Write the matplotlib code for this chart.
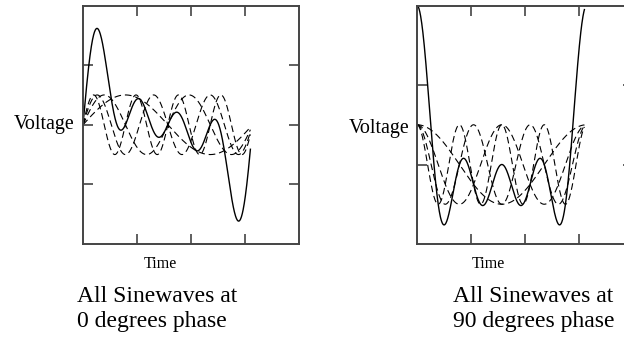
import numpy as np
import matplotlib
matplotlib.use("Agg")
import matplotlib.pyplot as plt

# harmonic content of the waveform (multiples of the fundamental)
harmonics = [1, 2, 3, 4]
amplitudes = [0.5, 0.5, 0.5, 0.5]
phases_deg = [0, 90]
t_end = 3.1
titles = ["All Sinewaves at\n0 degrees phase", "All Sinewaves at\n90 degrees phase"]
ylims = [(-2, 2), (-1, 2)]
yticks = [[-1, 0, 1], [0, 1]]
xticks = [1, 2, 3]

W, H = 624, 348
plt.rcParams['font.family'] = ['Liberation Serif', 'DejaVu Serif']


def px(x, y):
    return x / W, 1 - y / H


def style_axes(ax, ylim, yt):
    ax.set_xlim(0, 4)
    ax.set_ylim(*ylim)
    ax.set_xticks(xticks)
    ax.set_yticks(yt)
    ax.set_xticklabels([])
    ax.set_yticklabels([])
    ax.tick_params(direction='in', length=7.5, width=1.2, color='#444444',
                   top=True, right=True)
    for s in ax.spines.values():
        s.set_color('#444444')
        s.set_linewidth(1.4)


def main():
    fig = plt.figure(figsize=(W / 100, H / 100), dpi=100)
    t = np.linspace(0, t_end, 600)

    lefts = [83, 417]
    for i, ph in enumerate(phases_deg):
        x0, y0 = px(lefts[i], 244)
        ax = fig.add_axes([x0, y0, 216 / W, 238.5 / H])
        style_axes(ax, ylims[i], yticks[i])
        total = np.zeros_like(t)
        for k, a in zip(harmonics, amplitudes):
            wave = a * np.sin(2 * k * t + np.radians(ph))
            total += wave
            ax.plot(t, wave, color='black', lw=0.8, dashes=(6, 3.5))
        ax.plot(t, total, color='black', lw=1.0)

    # labels placed in pixel positions
    fig.text(*px(75, 129), "Voltage", ha='right', va='baseline', fontsize=14.4)
    fig.text(*px(410, 133), "Voltage", ha='right', va='baseline', fontsize=14.4)
    fig.text(*px(160, 268), "Time", ha='center', va='baseline', fontsize=11.5)
    fig.text(*px(488, 268), "Time", ha='center', va='baseline', fontsize=11.5)
    fig.text(*px(157, 327), titles[0], ha='center', va='baseline',
             fontsize=17, linespacing=1.25, multialignment='left')
    fig.text(*px(534, 327), titles[1], ha='center', va='baseline',
             fontsize=17, linespacing=1.25, multialignment='left')

    fig.savefig("out.png", dpi=100)


if __name__ == "__main__":
    main()
